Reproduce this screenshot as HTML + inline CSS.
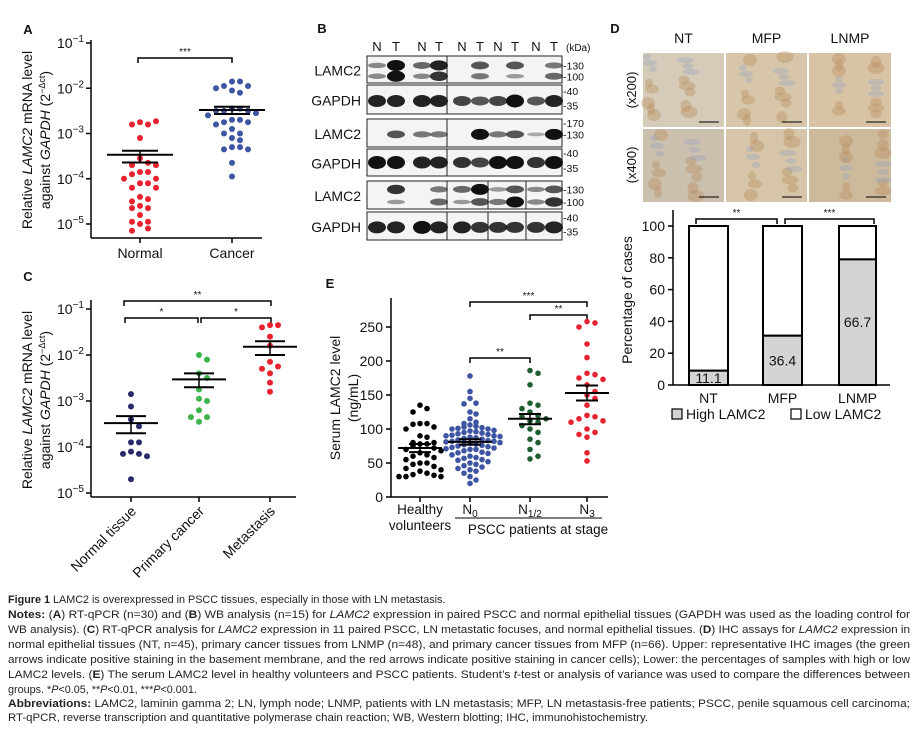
<!DOCTYPE html>
<html><head><meta charset="utf-8">
<style>
html,body{margin:0;padding:0;background:#fff;}
svg{display:block;font-family:"Liberation Sans",Arial,sans-serif;}
</style></head>
<body>
<svg id="fig" width="917" height="745" viewBox="0 0 917 745" xmlns="http://www.w3.org/2000/svg">
<g id="gA"></g>
<g id="gB"></g>
<g id="gC"></g>
<g id="gD"></g>
<g id="gE"></g>
<g id="cap" font-size="10.8" fill="#231f20">
  <text x="8" y="603"><tspan font-weight="bold">Figure 1</tspan> LAMC2 is overexpressed in PSCC tissues, especially in those with LN metastasis.</text>
  <text x="8" y="618" textLength="902" lengthAdjust="spacingAndGlyphs"><tspan font-weight="bold">Notes:</tspan> (<tspan font-weight="bold">A</tspan>) RT-qPCR (n=30) and (<tspan font-weight="bold">B</tspan>) WB analysis (n=15) for <tspan font-style="italic">LAMC2</tspan> expression in paired PSCC and normal epithelial tissues (GAPDH was used as the loading control for</text>
  <text x="8" y="633" textLength="902" lengthAdjust="spacingAndGlyphs">WB analysis). (<tspan font-weight="bold">C</tspan>) RT-qPCR analysis for <tspan font-style="italic">LAMC2</tspan> expression in 11 paired PSCC, LN metastatic focuses, and normal epithelial tissues. (<tspan font-weight="bold">D</tspan>) IHC assays for <tspan font-style="italic">LAMC2</tspan> expression in</text>
  <text x="8" y="648" textLength="902" lengthAdjust="spacingAndGlyphs">normal epithelial tissues (NT, n=45), primary cancer tissues from LNMP (n=48), and primary cancer tissues from MFP (n=66). Upper: representative IHC images (the green</text>
  <text x="8" y="663" textLength="902" lengthAdjust="spacingAndGlyphs">arrows indicate positive staining in the basement membrane, and the red arrows indicate positive staining in cancer cells); Lower: the percentages of samples with high or low</text>
  <text x="8" y="678" textLength="902" lengthAdjust="spacingAndGlyphs">LAMC2 levels. (<tspan font-weight="bold">E</tspan>) The serum LAMC2 level in healthy volunteers and PSCC patients. Student’s <tspan font-style="italic">t</tspan>-test or analysis of variance was used to compare the differences between</text>
  <text x="8" y="693">groups. *<tspan font-style="italic">P</tspan>&lt;0.05, **<tspan font-style="italic">P</tspan>&lt;0.01, ***<tspan font-style="italic">P</tspan>&lt;0.001.</text>
  <text x="8" y="707" textLength="902" lengthAdjust="spacingAndGlyphs"><tspan font-weight="bold">Abbreviations:</tspan> LAMC2, laminin gamma 2; LN, lymph node; LNMP, patients with LN metastasis; MFP, LN metastasis-free patients; PSCC, penile squamous cell carcinoma;</text>
  <text x="8" y="721" textLength="640" lengthAdjust="spacingAndGlyphs">RT-qPCR, reverse transcription and quantitative polymerase chain reaction; WB, Western blotting; IHC, immunohistochemistry.</text>
</g>
</svg>
<script>
// ---------- DATA ----------
const aCategories = ["Normal", "Cancer"];
const aNormal = [-2.75,-2.8,-2.8,-2.73,-3.1,-3.55,-3.65,-3.7,-3.7,-3.85,-3.85,-3.9,-4.0,-4.0,-4.1,-4.1,-4.2,-4.2,-4.4,-4.45,-4.5,-4.6,-4.65,-4.65,-4.8,-4.95,-4.95,-5.0,-5.1,-5.15];
const aCancer = [-1.85,-1.85,-1.95,-1.95,-2.0,-2.05,-2.1,-2.45,-2.45,-2.5,-2.5,-2.5,-2.55,-2.6,-2.7,-2.7,-2.75,-2.75,-2.8,-2.9,-3.0,-3.0,-3.1,-3.15,-3.3,-3.3,-3.35,-3.35,-3.65,-3.95];
const aMean = [-3.47, -2.48];
const aSemHi = [-3.38, -2.41];
const aSemLo = [-3.64, -2.57];
const logTicks = [-1,-2,-3,-4,-5];
const cCategories = ["Normal tissue", "Primary cancer", "Metastasis"];
const cNormal = [-2.85,-3.12,-3.4,-3.55,-3.9,-3.9,-4.1,-4.15,-4.15,-4.2,-4.7];
const cPrimary = [-2.0,-2.1,-2.4,-2.5,-2.75,-2.95,-3.0,-3.2,-3.35,-3.35,-3.45];
const cMetastasis = [-1.35,-1.35,-1.4,-1.6,-1.8,-2.15,-2.25,-2.3,-2.4,-2.6,-2.8];
const cMean = [-3.48, -2.53, -1.82];
const cSemHi = [-3.33, -2.4, -1.7];
const cSemLo = [-3.7, -2.7, -2.0];
const dCategories = ["NT", "MFP", "LNMP"];
const dHigh = [9, 31, 79];
const dLabels = ["11.1", "36.4", "66.7"];
const dTicks = [0,20,40,60,80,100];
const eTicks = [0,50,100,150,200,250];
const eHealthy = [135,130,125,108,108,107,103,100,90,88,80,80,78,78,75,72,70,68,65,62,60,58,55,50,50,48,45,42,40,38,35,33,32,30,30,30];
const eN0 = [178,155,145,138,137,125,122,115,110,108,106,104,103,102,101,100,100,98,97,96,95,94,93,92,91,90,90,89,88,87,86,85,84,83,82,82,81,80,79,78,77,76,75,74,73,72,71,70,70,68,66,65,64,62,60,58,57,55,54,52,50,48,46,44,42,40,38,35,30,25,20];
const eN12 = [186,182,165,138,135,130,125,120,118,115,112,110,105,100,95,85,80,70,60,56];
const eN3 = [258,256,250,225,205,182,180,175,173,165,155,150,145,135,120,118,115,112,110,100,95,92,88,65,53];
const eMean = [72, 81, 115, 153];
const eSemHi = [78, 85, 122, 164];
const eSemLo = [66, 77, 107, 142];
const bStrip1Upper = [0.3,1,0.5,0.9,0,0.6,0,0.6,0,0.4];
const bStrip1Lower = [0.3,1,0.3,0.8,0,0.4,0,0.2,0,0.5];
const bStrip2 = [0.9,0.9,0.9,0.9,0.7,0.6,0.7,1,0.6,0.9];
const bStrip3 = [0,0.6,0.4,0.4,0,1,0.4,0.6,0.1,1];
const bStrip4 = [1,1,0.9,0.9,0.8,0.7,1,1,0.8,1];
const bStrip5Upper = [0,0.8,0,0.4,0.5,1,0.2,0.6,0.3,0.6];
const bStrip5Lower = [0,0.2,0,0.5,0.2,0.6,0.4,1,0.3,0.8];
const bStrip6 = [0.9,0.9,1,0.9,0.9,0.8,0.8,0.8,0.8,0.9];

const NS = "http://www.w3.org/2000/svg";
function mk(parent, tag, attrs, text) {
  const el = document.createElementNS(NS, tag);
  for (const k in attrs) el.setAttribute(k, attrs[k]);
  if (text !== undefined) el.textContent = text;
  parent.appendChild(el);
  return el;
}
function line(g, x1, y1, x2, y2, w, name) {
  const el = mk(g, "line", {x1, y1, x2, y2, stroke: "#000", "stroke-width": w || 1.5});
  
  
  return el;
}
function txt(g, x, y, s, size, anchor, name, extra) {
  const a = {x, y, "font-size": size, "text-anchor": anchor || "middle", fill: "#111"};
  for (const k in (extra || {})) a[k] = extra[k];
  const el = mk(g, "text", a, s);
  
  
  return el;
}
function bracket(g, x1, x2, y, label, name) {
  const p = mk(g, "path", {d: `M${x1},${y+5}V${y}H${x2}V${y+5}`, fill: "none", stroke: "#000", "stroke-width": 1.5});
  
  
  txt(g, (x1 + x2) / 2, y - 3, label, 10, "middle", name + '-label');
}
function powLabel(g, x, y, exp, name) {
  const t = txt(g, x, y, "", 14, "end", name);
  mk(t, "tspan", {}, "10");
  mk(t, "tspan", {dy: -6, "font-size": 10}, "−" + exp);
  return t;
}
function swarm(vals, yfn, step, thr) {
  const out = []; let groupY = null; let k = 0;
  vals.forEach((v) => {
    const y = yfn(v);
    if (groupY === null || Math.abs(y - groupY) > thr) { groupY = y; k = 0; }
    const off = (k === 0) ? 0 : (k % 2 ? 1 : -1) * Math.ceil(k / 2) * step;
    k++;
    out.push([off, y]);
  });
  return out;
}
function dots(g, cx, vals, yfn, color, r, step, name, thr) {
  swarm(vals, yfn, step, thr || 7).forEach(([off, y]) => {
    const c = mk(g, "circle", {cx: cx + off, cy: y, r, fill: color});
    
    
  });
}
function meanSem(g, cx, mean, hi, lo, yfn, wMean, wSem, name) {
  line(g, cx - wMean, yfn(mean), cx + wMean, yfn(mean), 2, name + '-mean');
  line(g, cx - wSem, yfn(hi), cx + wSem, yfn(hi), 2, name + '-sem-upper');
  line(g, cx - wSem, yfn(lo), cx + wSem, yfn(lo), 2, name + '-sem-lower');
  line(g, cx, yfn(hi), cx, yfn(lo), 1.5, name + '-sem-bar');
}
function yTitle(g, cx, cy) {
  const yt = txt(g, 0, 0, "", 14, "middle", "y-axis-title", {transform: `translate(${cx},${cy}) rotate(-90)`});
  mk(yt, "tspan", {}, "Relative ");
  mk(yt, "tspan", {"font-style": "italic"}, "LAMC2");
  mk(yt, "tspan", {}, " mRNA level");
  const yt2 = txt(g, 0, 0, "", 14, "middle", "y-axis-title-line2", {transform: `translate(${cx+18},${cy}) rotate(-90)`});
  mk(yt2, "tspan", {}, "against ");
  mk(yt2, "tspan", {"font-style": "italic"}, "GAPDH");
  mk(yt2, "tspan", {}, " (2");
  mk(yt2, "tspan", {dy: -5, "font-size": 9}, "−Δct");
  mk(yt2, "tspan", {dy: 5}, ")");
}

// ---------- PANEL A ----------
(function(){
  const g = document.getElementById("gA");
  const y = l => 43 + (-1 - l) * 45.25;
  const xs = [140, 232];
  txt(g, 28, 34, "A", 13, "middle", "panel-a-letter", {"font-weight": "bold"});
  line(g, 91, 40, 91, 238, 1.5, 'y-axis');
  line(g, 91, 238, 262, 238, 1.5, 'x-axis');
  logTicks.forEach(t => { line(g, 86, y(t), 91, y(t), 1.5, 'y-tick'); powLabel(g, 84, y(t) + 5, -t, 'y-tick-label'); });
  xs.forEach((x, i) => { line(g, x, 238, x, 243, 1.5, 'x-tick'); txt(g, x, 258, aCategories[i], 14, "middle", 'x-tick-label'); });
  yTitle(g, 32, 140);
  bracket(g, 138, 232, 58, "***", "significance-bracket");
  dots(g, xs[0], aNormal, y, "#e8232f", 3, 8, "normal-point", 9);
  dots(g, xs[1], aCancer, y, "#3d55a3", 3, 8, "cancer-point", 9);
  xs.forEach((x, i) => meanSem(g, x, aMean[i], aSemHi[i], aSemLo[i], y, 33, 18, 'group-' + i));
})();

// ---------- PANEL C ----------
(function(){
  const g = document.getElementById("gC");
  const y = l => 309 + (-1 - l) * 46;
  const xs = [131, 199, 270];
  txt(g, 28, 281, "C", 13, "middle", "panel-c-letter", {"font-weight": "bold"});
  line(g, 91, 300, 91, 497, 1.5, 'y-axis');
  line(g, 91, 497, 296, 497, 1.5, 'x-axis');
  logTicks.forEach(t => { line(g, 86, y(t), 91, y(t), 1.5, 'y-tick'); powLabel(g, 84, y(t) + 5, -t, 'y-tick-label'); });
  xs.forEach((x, i) => { line(g, x, 497, x, 502, 1.5, 'x-tick'); txt(g, x + 6, 512, cCategories[i], 14, "end", 'x-tick-label', {transform: `rotate(-45 ${x+6} 512)`}); });
  yTitle(g, 32, 400);
  bracket(g, 124, 271, 301, "**", "bracket-normal-metastasis");
  bracket(g, 125, 198, 318, "*", "bracket-normal-primary");
  bracket(g, 201, 271, 318, "*", "bracket-primary-metastasis");
  dots(g, xs[0], cNormal, y, "#2b2a6b", 3, 8, "normal-tissue-point", 9);
  dots(g, xs[1], cPrimary, y, "#3cb54a", 3, 8, "primary-cancer-point", 9);
  dots(g, xs[2], cMetastasis, y, "#e8232f", 3, 8, "metastasis-point", 9);
  xs.forEach((x, i) => meanSem(g, x, cMean[i], cSemHi[i], cSemLo[i], y, 27, 15, 'group-' + i));
})();

// ---------- PANEL E ----------
(function(){
  const g = document.getElementById("gE");
  const y = v => 497 - v * 0.68;
  const xs = [420, 470, 530, 587];
  txt(g, 330, 288, "E", 13, "middle", "panel-e-letter", {"font-weight": "bold"});
  line(g, 391, 298, 391, 497, 1.5, 'y-axis');
  line(g, 391, 497, 608, 497, 1.5, 'x-axis');
  eTicks.forEach(t => { line(g, 386, y(t), 391, y(t), 1.5, 'y-tick'); txt(g, 383, y(t) + 5, String(t), 14, "end", 'y-tick-label'); });
  xs.forEach(x => line(g, x, 497, x, 502, 1.5, 'x-tick'));
  txt(g, 420, 514, "Healthy", 13.5, "middle", 'x-tick-label');
  txt(g, 420, 530, "volunteers", 13.5, "middle", 'x-tick-label');
  const n0 = txt(g, 470, 514, "N", 13.5, "middle", 'x-tick-label'); mk(n0, "tspan", {"font-size": 10, dy: 3}, "0");
  const n12 = txt(g, 530, 514, "N", 13.5, "middle", 'x-tick-label'); mk(n12, "tspan", {"font-size": 10, dy: 3}, "1/2");
  const n3 = txt(g, 587, 514, "N", 13.5, "middle", 'x-tick-label'); mk(n3, "tspan", {"font-size": 10, dy: 3}, "3");
  line(g, 455, 518, 602, 518, 1, 'group-underline');
  txt(g, 538, 534, "PSCC patients at stage", 13.5, "middle", 'x-group-label');
  txt(g, 0, 0, "Serum LAMC2 level", 14, "middle", "y-axis-title", {transform: "translate(340,398) rotate(-90)"});
  txt(g, 0, 0, "(ng/mL)", 14, "middle", "y-axis-title-units", {transform: "translate(358,398) rotate(-90)"});
  bracket(g, 470, 587, 302, "***", "bracket-n0-n3");
  bracket(g, 530, 587, 315, "**", "bracket-n12-n3");
  bracket(g, 470, 530, 358, "**", "bracket-n0-n12");
  dots(g, xs[0], eHealthy, y, "#000", 2.8, 7, "healthy-point", 7);
  dots(g, xs[1], eN0, y, "#3d55a3", 2.8, 6, "n0-point", 6);
  dots(g, xs[2], eN12, y, "#1e5e33", 2.8, 8, "n12-point", 8);
  dots(g, xs[3], eN3, y, "#e8232f", 2.8, 8, "n3-point", 8);
  xs.forEach((x, i) => meanSem(g, x, eMean[i], eSemHi[i], eSemLo[i], y, 22, 11, 'group-' + i));
})();

// ---------- PANEL D ----------
(function(){
  const g = document.getElementById("gD");
  txt(g, 615, 33, "D", 13, "middle", "panel-d-letter", {"font-weight": "bold"});
  const heads = ["NT", "MFP", "LNMP"];
  const cols = [[643, 724], [726, 807], [809, 891]];
  const rows = [[53, 127], [129, 202]];
  heads.forEach((h, i) => txt(g, (cols[i][0] + cols[i][1]) / 2, 43, h, 14, "middle", 'ihc-column-header'));
  txt(g, 0, 0, "(x200)", 13, "middle", "ihc-row-label", {transform: "translate(636,90) rotate(-90)"});
  txt(g, 0, 0, "(x400)", 13, "middle", "ihc-row-label", {transform: "translate(636,165) rotate(-90)"});
  const base = [["#d6cbb9", "#d8c6aa", "#d9c3a5"], ["#cbbfae", "#d6c5a8", "#cdb99c"]];
  rows.forEach((r, ri) => cols.forEach((c, ci) => {
    const tile = mk(g, "g", {});
    
    
    mk(tile, "rect", {x: c[0], y: r[0], width: c[1] - c[0], height: r[1] - r[0], fill: base[ri][ci]});
    for (let k = 0; k < 16; k++) {
      const ex = c[0] + 4 + ((k * 37 + ci * 13 + ri * 7) % (c[1] - c[0] - 8));
      const ey = r[0] + 4 + ((k * 23 + ci * 11 + ri * 5) % (r[1] - r[0] - 8));
      mk(tile, "ellipse", {cx: ex, cy: ey, rx: 4 + (k % 4) * 1.5, ry: 3 + (k % 3) * 1.5, fill: k % 3 ? "#b98f5e" : "#9aa7bf", opacity: 0.4});
    }
    mk(tile, "line", {x1: c[1] - 25, y1: r[1] - 5, x2: c[1] - 5, y2: r[1] - 5, stroke: "#000", "stroke-width": 1});
  }));
  const y = p => 385 - p * 1.59;
  const bars = [[689, 728], [763, 802], [839, 876]];
  line(g, 673, 210, 673, 385, 1.5, 'y-axis');
  line(g, 673, 385, 890, 385, 1.5, 'x-axis');
  dTicks.forEach(t => { line(g, 668, y(t), 673, y(t), 1.5, 'y-tick'); txt(g, 665, y(t) + 5, String(t), 14, "end", 'y-tick-label'); });
  txt(g, 0, 0, "Percentage of cases", 14, "middle", "y-axis-title", {transform: "translate(632,300) rotate(-90)"});
  bars.forEach((b, i) => {
    const w = b[1] - b[0];
    const low = mk(g, "rect", {x: b[0], y: y(100), width: w, height: y(dHigh[i]) - y(100), fill: "#fff", stroke: "#000", "stroke-width": 2});
    
    
    const hi = mk(g, "rect", {x: b[0], y: y(dHigh[i]), width: w, height: y(0) - y(dHigh[i]), fill: "#d4d4d4", stroke: "#000", "stroke-width": 2});
    
    
    txt(g, (b[0] + b[1]) / 2, Math.min(y(dHigh[i] / 2) + 5, 384), dLabels[i], 14, "middle", 'bar-value-label');
    txt(g, (b[0] + b[1]) / 2, 403, dCategories[i], 14, "middle", 'x-tick-label');
  });
  bracket(g, 696, 777, 219, "**", "bracket-nt-mfp");
  bracket(g, 785, 874, 219, "***", "bracket-mfp-lnmp");
  const l1 = mk(g, "rect", {x: 672, y: 409, width: 10, height: 10, fill: "#d4d4d4", stroke: "#000", "stroke-width": 1.2});
  
  
  txt(g, 686, 419, "High LAMC2", 14, "start", 'legend-entry-high');
  const l2 = mk(g, "rect", {x: 791, y: 409, width: 10, height: 10, fill: "#fff", stroke: "#000", "stroke-width": 1.2});
  
  
  txt(g, 805, 419, "Low LAMC2", 14, "start", 'legend-entry-low');
})();

// ---------- PANEL B ----------
(function(){
  const g = document.getElementById("gB");
  txt(g, 322, 33, "B", 13, "middle", "panel-b-letter", {"font-weight": "bold"});
  const lanes = [377,396,422,439,462,480,498,515,536,554];
  lanes.forEach((x, i) => txt(g, x, 51, i % 2 ? "T" : "N", 13, "middle", 'lane-label'));
  txt(g, 566, 51, "(kDa)", 10, "start", 'kda-unit-label');
  const strips = [
    {y0: 56, y1: 83, name: "LAMC2", bands: [[bStrip1Upper, 0.35], [bStrip1Lower, 0.75]], kda: [["-130", 0.35], ["-100", 0.75]], seps: [447]},
    {y0: 85, y1: 114, name: "GAPDH", bands: [[bStrip2, 0.55]], kda: [["-40", 0.2], ["-35", 0.7]], seps: [447]},
    {y0: 119, y1: 147, name: "LAMC2", bands: [[bStrip3, 0.55]], kda: [["-170", 0.15], ["-130", 0.55]], seps: [447]},
    {y0: 149, y1: 176, name: "GAPDH", bands: [[bStrip4, 0.5]], kda: [["-40", 0.15], ["-35", 0.7]], seps: [447]},
    {y0: 181, y1: 209, name: "LAMC2", bands: [[bStrip5Upper, 0.3], [bStrip5Lower, 0.75]], kda: [["-130", 0.3], ["-100", 0.75]], seps: [447, 488, 526]},
    {y0: 212, y1: 240, name: "GAPDH", bands: [[bStrip6, 0.55]], kda: [["-40", 0.2], ["-35", 0.7]], seps: [447, 488, 526]}
  ];
  strips.forEach((s) => {
    const sg = mk(g, "g", {});
    
    
    const h = s.y1 - s.y0;
    mk(sg, "rect", {x: 367, y: s.y0, width: 195, height: h, fill: "#f4f4f4", stroke: "#222", "stroke-width": 1});
    s.bands.forEach(([vals, pos]) => vals.forEach((v, i) => {
      if (v <= 0) return;
      const b = mk(sg, "ellipse", {cx: lanes[i], cy: s.y0 + pos * h, rx: 9, ry: 1.5 + v * (s.name === "GAPDH" ? 5 : 4), fill: "#111", opacity: 0.25 + v * 0.75});
      
      
    }));
    s.seps.forEach(x => mk(sg, "line", {x1: x, y1: s.y0, x2: x, y2: s.y1, stroke: "#222", "stroke-width": 1}));
    txt(g, 361, s.y0 + h / 2 + 6, s.name, 14, "end", 'blot-row-label');
    s.kda.forEach(([k, p]) => txt(g, 563, s.y0 + p * h + 4, k, 10.5, "start", 'kda-marker'));
  });
})();
</script>
</body></html>
